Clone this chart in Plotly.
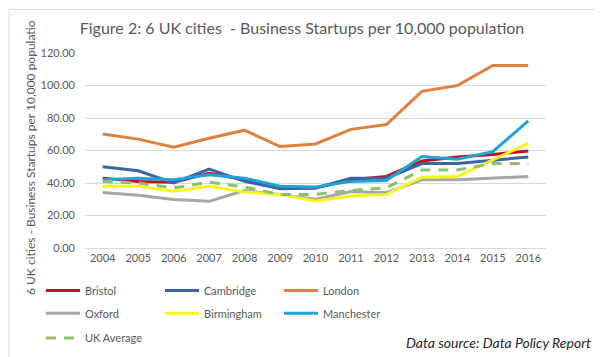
import plotly.graph_objects as go

years = ["2004", "2005", "2006", "2007", "2008", "2009", "2010",
         "2011", "2012", "2013", "2014", "2015", "2016"]

bristol = [43, 41, 40.5, 46, 42, 37, 37, 42, 44, 53.5, 56, 57.5, 59.7]
cambridge = [50, 47.5, 40, 48.5, 41, 36.5, 37, 43, 43, 52, 52, 54, 56]
london = [70.2, 67, 62, 67.5, 72.5, 62.4, 64, 73, 76, 96.4, 100, 112.3, 112.3]
oxford = [34.2, 32.5, 29.8, 28.7, 35.3, 33, 30, 34.8, 34, 42, 42, 43, 44]
birmingham = [38, 38, 35, 38, 34.5, 33, 29, 32, 33, 43.6, 44, 54, 64.4]
manchester = [42, 43, 42, 45, 43, 38, 37.5, 41, 41.5, 56.3, 54.6, 59.3, 78.3]
uk_average = [41, 40, 37, 40.5, 37.5, 33, 33, 35.5, 37, 48, 48, 52, 52]

y_ticks = [0, 20, 40, 60, 80, 100, 120]

series = [
    ("Bristol", bristol, "#C0101E", "solid", "legend"),
    ("Cambridge", cambridge, "#3A64A8", "solid", "legend"),
    ("London", london, "#E0803F", "solid", "legend"),
    ("Oxford", oxford, "#A6A6A6", "solid", "legend2"),
    ("Birmingham", birmingham, "#F5F51E", "solid", "legend2"),
    ("Manchester", manchester, "#1EA5D6", "solid", "legend2"),
    ("UK Average", uk_average, "#8DC06A", "dash", "legend3"),
]

FONT = "Lato"
GREY = "#595959"

fig = go.Figure()
for name, vals, color, dash, lg in series:
    fig.add_trace(go.Scatter(
        x=years, y=vals, name=name, mode="lines",
        line=dict(color=color, width=3, dash=dash if dash == "solid" else "10px,8px"),
        legend=lg,
    ))

L, R, T, B = 77, 65, 45, 115
W, H = 603, 357
pw, ph = W - L - R, H - T - B

def px(x):
    return (x - L) / pw

def py(y):
    return (H - B - y) / ph

legend_common = dict(
    orientation="h", xanchor="left", yanchor="middle",
    font=dict(family=FONT, size=11, color=GREY),
    entrywidth=70, entrywidthmode="pixels", itemwidth=34,
    bgcolor="rgba(0,0,0,0)", tracegroupgap=0,
)

fig.update_layout(
    width=W, height=H,
    margin=dict(l=L, r=R, t=T, b=B),
    paper_bgcolor="white", plot_bgcolor="white",
    font=dict(family=FONT, size=11, color=GREY),
    title=dict(
        text="Figure 2: 6 UK cities  - Business Startups per 10,000 population",
        x=294 / W, xanchor="center", xref="container",
        y=1 - 20 / H, yanchor="middle", yref="container",
        font=dict(family=FONT, size=16, color=GREY),
    ),
    xaxis=dict(
        type="category", range=[-0.5, 12.5],
        showgrid=False, showline=True, linecolor="#D9D9D9", linewidth=1,
        ticks="", tickfont=dict(family=FONT, size=11, color=GREY),
        fixedrange=True,
    ),
    yaxis=dict(
        range=[0, 120], tickvals=y_ticks,
        ticktext=[f"{v:.2f}" for v in y_ticks],
        showgrid=True, gridcolor="#D9D9D9", gridwidth=1,
        zeroline=False, showline=False, ticks="",
        ticklabelstandoff=9,
        tickfont=dict(family=FONT, size=11, color=GREY),
        fixedrange=True,
    ),
    legend=dict(x=px(33), y=py(285), **legend_common),
    legend2=dict(x=px(33), y=py(308), **legend_common),
    legend3=dict(x=px(33), y=py(333), **legend_common),
    showlegend=True,
)

fig.add_annotation(
    text="6 UK cities - Business Startups per 10,000 populatio",
    xref="paper", yref="paper", x=px(23), y=py(292),
    xanchor="center", yanchor="bottom", textangle=-90, showarrow=False,
    font=dict(family=FONT, size=12, color=GREY),
)

fig.add_annotation(
    text="Data source: Data Policy Report",
    xref="paper", yref="paper", x=px(585), y=py(337),
    xanchor="right", yanchor="middle", showarrow=False,
    font=dict(family=FONT, size=14, color="#262626", style="italic"),
)

fig.add_shape(
    type="rect", xref="paper", yref="paper",
    x0=px(1), x1=px(599), y0=py(355), y1=py(1),
    line=dict(color="#D9D9D9", width=1), layer="below",
)

fig.write_html("out.html")
